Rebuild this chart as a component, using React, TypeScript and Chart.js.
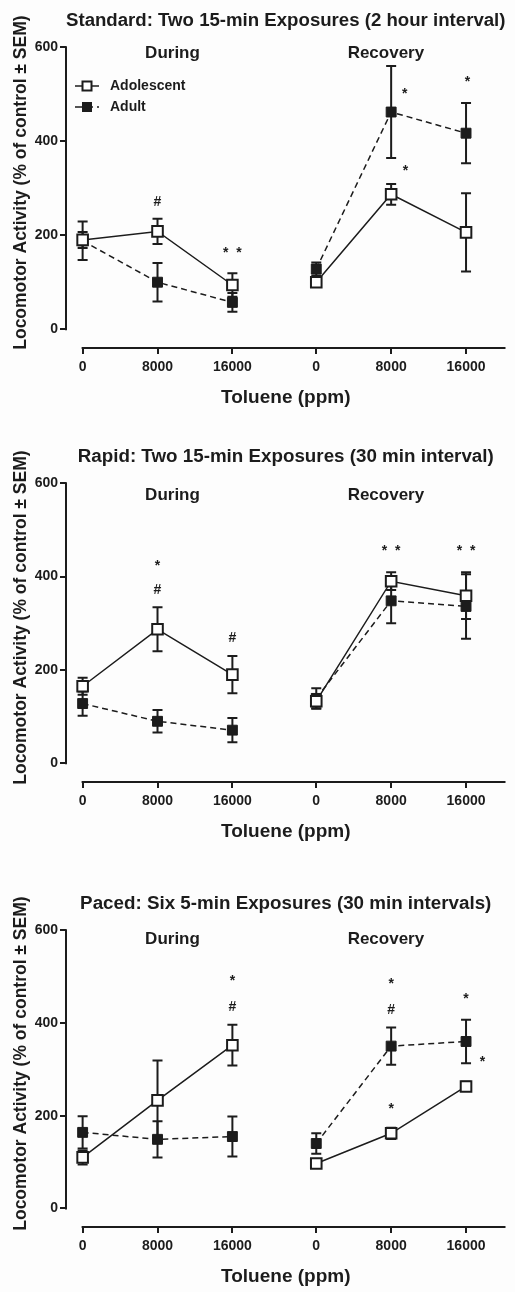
import React, { useEffect, useRef } from "react";
import { Chart, registerables } from "chart.js";

Chart.register(...registerables);

// ---------- data ----------
const doseLabels = ["0", "8000", "16000", "0", "8000", "16000"];
const xPositions = [0, 1, 2, 3.12, 4.12, 5.12];
const yTickValues = [0, 200, 400, 600];
const groupLabels = ["During", "Recovery"];
const groupLabelX = [1.2, 4.05];

// Panel 1: Standard
const standardTitle = "Standard: Two 15-min Exposures (2 hour interval)";
const standardAdolescent = [190, 208, 94, 100, 287, 206];
const standardAdolescentSem = [17, 27, 25, 10, 22, 83];
const standardAdult = [188, 100, 57, 128, 462, 417];
const standardAdultSem = [41, 41, 20, 14, 98, 64];
const standardMarkText = ["#", "*  *", "*", "*", "*"];
const standardMarkX = [1, 2, 4.3, 5.14, 4.31];
const standardMarkY = [272, 170, 509, 534, 345];

// Panel 2: Rapid
const rapidTitle = "Rapid: Two 15-min Exposures (30 min interval)";
const rapidAdolescent = [165, 287, 190, 133, 390, 359];
const rapidAdolescentSem = [18, 47, 40, 15, 19, 50];
const rapidAdult = [128, 90, 71, 139, 348, 336];
const rapidAdultSem = [26, 24, 26, 22, 48, 69];
const rapidMarkText = ["*", "#", "#", "*  *", "*  *"];
const rapidMarkX = [1, 1, 2, 4.12, 5.12];
const rapidMarkY = [431, 373, 270, 463, 463];

// Panel 3: Paced
const pacedTitle = "Paced: Six 5-min Exposures (30 min intervals)";
const pacedAdolescent = [110, 233, 352, 97, 162, 263];
const pacedAdolescentSem = [15, 86, 44, 8, 12, 10];
const pacedAdult = [164, 149, 155, 140, 350, 360];
const pacedAdultSem = [35, 39, 43, 22, 40, 47];
const pacedMarkText = ["*", "#", "*", "#", "*", "*", "*"];
const pacedMarkX = [2, 2, 4.12, 4.12, 5.12, 5.34, 4.12];
const pacedMarkY = [499, 436, 492, 430, 460, 324, 224];

// ---------- style ----------
const INK = "#1c1c1c";
const FONT = '"Liberation Sans", Arial, Helvetica, sans-serif';
const X_MIN = -0.222;
const X_MAX = 5.647;
const Y_MIN = -40;
const Y_MAX = 600;

type PanelDef = {
  title: string;
  adolescent: number[];
  adolescentSem: number[];
  adult: number[];
  adultSem: number[];
  markText: string[];
  markX: number[];
  markY: number[];
  legend: boolean;
  groupY: number;
  top: number;
  height: number;
};

const panels: PanelDef[] = [
  {
    title: standardTitle,
    adolescent: standardAdolescent,
    adolescentSem: standardAdolescentSem,
    adult: standardAdult,
    adultSem: standardAdultSem,
    markText: standardMarkText,
    markX: standardMarkX,
    markY: standardMarkY,
    legend: true,
    groupY: 587,
    top: 0,
    height: 418,
  },
  {
    title: rapidTitle,
    adolescent: rapidAdolescent,
    adolescentSem: rapidAdolescentSem,
    adult: rapidAdult,
    adultSem: rapidAdultSem,
    markText: rapidMarkText,
    markX: rapidMarkX,
    markY: rapidMarkY,
    legend: false,
    groupY: 574,
    top: 436,
    height: 416,
  },
  {
    title: pacedTitle,
    adolescent: pacedAdolescent,
    adolescentSem: pacedAdolescentSem,
    adult: pacedAdult,
    adultSem: pacedAdultSem,
    markText: pacedMarkText,
    markX: pacedMarkX,
    markY: pacedMarkY,
    legend: false,
    groupY: 581,
    top: 883,
    height: 414,
  },
];

const toPoints = (vals: number[]) => [
  ...vals.slice(0, 3).map((v, i) => ({ x: xPositions[i], y: v })),
  { x: 2.56, y: null as any },
  ...vals.slice(3).map((v, i) => ({ x: xPositions[i + 3], y: v })),
];

const makeOverlay = (p: PanelDef) => ({
  id: "overlay",
  beforeDatasetsDraw(chart: any) {
    const { ctx } = chart;
    const x = chart.scales.x;
    const y = chart.scales.y;
    ctx.save();
    ctx.strokeStyle = INK;
    ctx.lineWidth = 2;
    const series: [number[], number[]][] = [
      [p.adolescent, p.adolescentSem],
      [p.adult, p.adultSem],
    ];
    series.forEach(([m, s]) => {
      m.forEach((v, i) => {
        const px = x.getPixelForValue(xPositions[i]);
        const t = y.getPixelForValue(v + s[i]);
        const b = y.getPixelForValue(v - s[i]);
        ctx.beginPath();
        ctx.moveTo(px, t);
        ctx.lineTo(px, b);
        ctx.moveTo(px - 5, t);
        ctx.lineTo(px + 5, t);
        ctx.moveTo(px - 5, b);
        ctx.lineTo(px + 5, b);
        ctx.stroke();
      });
    });
    ctx.restore();
  },
  afterDraw(chart: any) {
    const { ctx, chartArea } = chart;
    const x = chart.scales.x;
    const y = chart.scales.y;
    ctx.save();
    // axis lines
    ctx.strokeStyle = INK;
    ctx.lineWidth = 2;
    ctx.beginPath();
    ctx.moveTo(chartArea.left, y.getPixelForValue(0) + 1);
    ctx.lineTo(chartArea.left, y.getPixelForValue(600) - 1);
    ctx.moveTo(x.getPixelForValue(0) - 1, chartArea.bottom);
    ctx.lineTo(chartArea.right, chartArea.bottom);
    ctx.stroke();

    // group labels
    ctx.fillStyle = INK;
    ctx.font = `bold 17px ${FONT}`;
    ctx.textAlign = "center";
    ctx.textBaseline = "middle";
    groupLabels.forEach((g, i) => {
      ctx.fillText(g, x.getPixelForValue(groupLabelX[i]), y.getPixelForValue(p.groupY));
    });

    // significance marks
    ctx.font = `bold 14px ${FONT}`;
    ctx.textBaseline = "alphabetic";
    p.markText.forEach((t, i) => {
      const off = t.includes("*") ? 8 : 5;
      ctx.fillText(t, x.getPixelForValue(p.markX[i]), y.getPixelForValue(p.markY[i]) + off);
    });

    // y axis title
    ctx.save();
    ctx.translate(21, (chartArea.top + chartArea.bottom) / 2 - 15);
    ctx.rotate(-Math.PI / 2);
    ctx.font = `bold 17.5px ${FONT}`;
    ctx.textAlign = "center";
    ctx.textBaseline = "middle";
    ctx.fillText("Locomotor Activity (% of control \u00B1 SEM)", 0, 0);
    ctx.restore();

    // legend
    if (p.legend) {
      const lx0 = 75;
      const lx1 = 99;
      const mx = 87;
      const rows = [
        { label: "Adolescent", yy: 86, open: true },
        { label: "Adult", yy: 107, open: false },
      ];
      rows.forEach((r) => {
        ctx.lineWidth = 1.5;
        ctx.strokeStyle = INK;
        ctx.setLineDash(r.open ? [] : [7, 4]);
        ctx.beginPath();
        ctx.moveTo(lx0, r.yy);
        ctx.lineTo(lx1, r.yy);
        ctx.stroke();
        ctx.setLineDash([]);
        if (r.open) {
          ctx.fillStyle = "#fff";
          ctx.fillRect(mx - 4.5, r.yy - 4.5, 9, 9);
          ctx.lineWidth = 2;
          ctx.strokeRect(mx - 4.5, r.yy - 4.5, 9, 9);
        } else {
          ctx.fillStyle = INK;
          ctx.fillRect(mx - 5, r.yy - 5, 10, 10);
        }
        ctx.fillStyle = INK;
        ctx.font = `bold 14px ${FONT}`;
        ctx.textAlign = "left";
        ctx.textBaseline = "middle";
        ctx.fillText(r.label, 110, r.yy);
      });
    }
    ctx.restore();
  },
});

function PanelChart({ p }: { p: PanelDef }) {
  const ref = useRef<HTMLCanvasElement | null>(null);
  useEffect(() => {
    if (!ref.current) return;
    const tickFont = { family: FONT, size: 14, weight: "bold" as const };
    const grid = {
      display: true,
      drawOnChartArea: false,
      drawTicks: true,
      tickLength: 6,
      lineWidth: 2,
      color: INK,
    };
    const chart = new Chart(ref.current, {
      type: "line",
      data: {
        datasets: [
          {
            label: "Adolescent",
            data: toPoints(p.adolescent),
            borderColor: INK,
            borderWidth: 1.5,
            pointStyle: "rect",
            pointRadius: 7.5,
            pointBackgroundColor: "#ffffff",
            pointBorderColor: INK,
            pointBorderWidth: 2,
            tension: 0,
            fill: false,
            spanGaps: false,
          },
          {
            label: "Adult",
            data: toPoints(p.adult),
            borderColor: INK,
            borderWidth: 1.5,
            borderDash: [6, 4],
            pointStyle: "rect",
            pointRadius: 7,
            pointBackgroundColor: INK,
            pointBorderColor: INK,
            pointBorderWidth: 1,
            tension: 0,
            fill: false,
            spanGaps: false,
          },
        ],
      },
      options: {
        responsive: false,
        animation: false,
        devicePixelRatio: 1,
        layout: { padding: { top: 9.6, left: 0, right: 0, bottom: 0 } },
        plugins: {
          legend: { display: false },
          tooltip: { enabled: false },
          title: {
            display: true,
            text: p.title,
            fullSize: false,
            color: INK,
            font: { family: FONT, size: 18.8, weight: "bold", lineHeight: 1.2 },
            padding: { top: 0.2, bottom: 14.8 },
          },
        },
        scales: {
          x: {
            type: "linear",
            min: X_MIN,
            max: X_MAX,
            afterBuildTicks: (s: any) => {
              s.ticks = xPositions.map((v) => ({ value: v }));
            },
            afterFit: (s: any) => {
              s.height = 70;
            },
            ticks: {
              autoSkip: false,
              maxRotation: 0,
              minRotation: 0,
              padding: 5,
              color: INK,
              font: tickFont,
              callback: (_v: any, i: number) => doseLabels[i],
            },
            grid,
            border: { display: false },
            title: {
              display: true,
              text: "Toluene (ppm)",
              color: INK,
              font: { family: FONT, size: 19, weight: "bold", lineHeight: 1.2 },
              padding: { top: 0, bottom: 8.6 },
            },
          },
          y: {
            type: "linear",
            min: Y_MIN,
            max: Y_MAX,
            afterBuildTicks: (s: any) => {
              s.ticks = yTickValues.map((v) => ({ value: v }));
            },
            afterFit: (s: any) => {
              s.width = 66;
            },
            ticks: { padding: 2, color: INK, font: tickFont },
            grid,
            border: { display: false },
          },
        },
      } as any,
      plugins: [makeOverlay(p)],
    });
    return () => chart.destroy();
  }, [p]);
  return (
    <canvas
      ref={ref}
      width={515}
      height={p.height}
      style={{ position: "absolute", left: 0, top: p.top, width: 515, height: p.height }}
    />
  );
}

export default function App() {
  return (
    <div
      style={{
        position: "absolute",
        left: 0,
        top: 0,
        width: 515,
        height: 1292,
        background: "#fdfdfd",
        overflow: "hidden",
      }}
    >
      {panels.map((p, i) => (
        <PanelChart key={i} p={p} />
      ))}
    </div>
  );
}
